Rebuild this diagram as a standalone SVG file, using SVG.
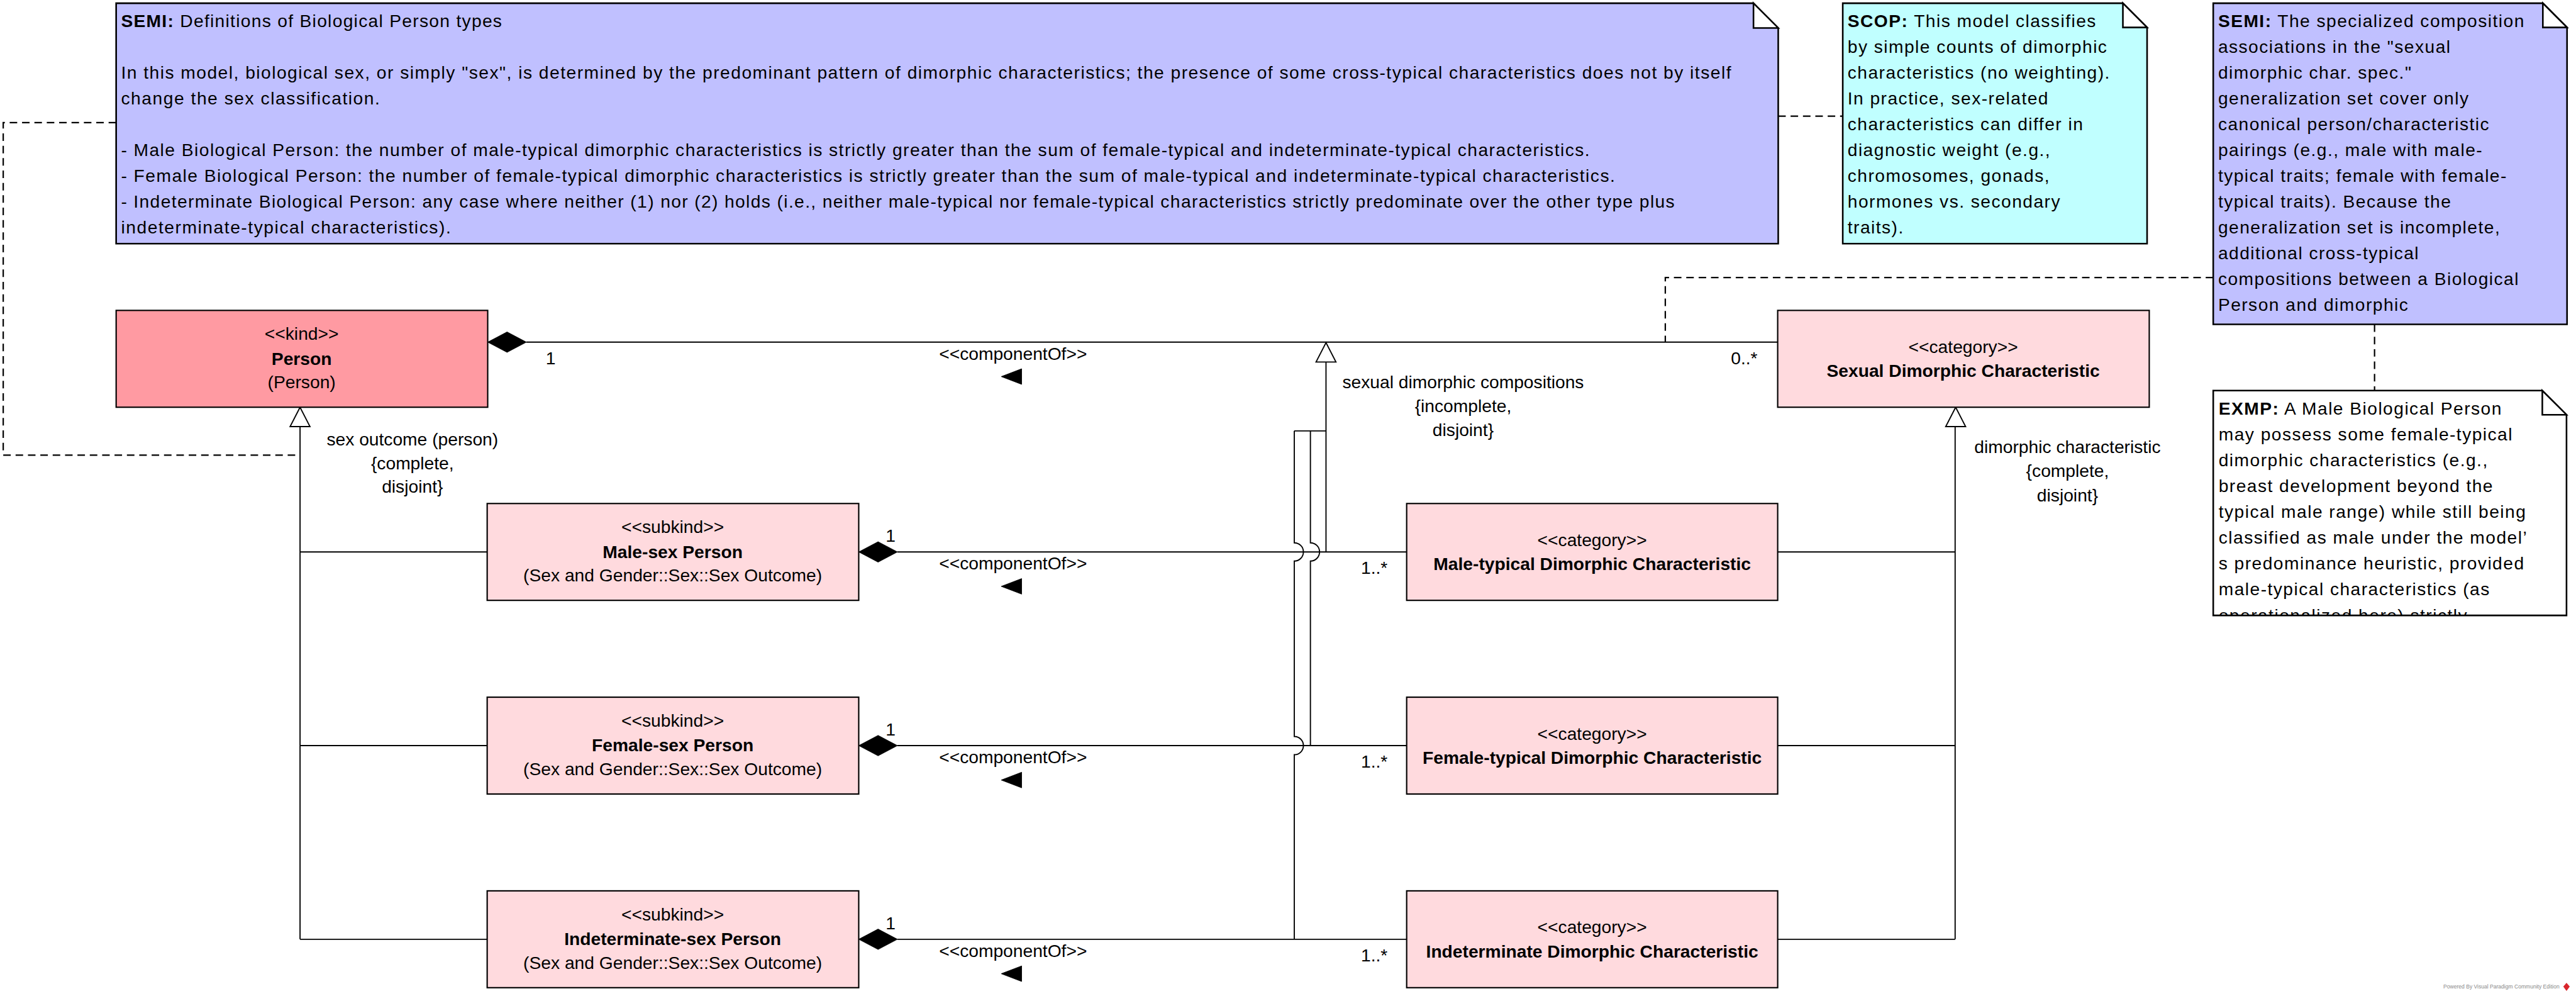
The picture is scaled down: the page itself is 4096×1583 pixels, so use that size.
<svg xmlns="http://www.w3.org/2000/svg" xmlns:xlink="http://www.w3.org/1999/xlink" width="4096" height="1583" viewBox="0 0 4096 1583">
<style>
  text { font-family: "Liberation Sans", Arial, Helvetica, sans-serif; font-size: 33px; fill: #000; }
  .c { text-anchor: middle; }
  .b { font-weight: bold; }
  .nt { letter-spacing: 1.7px; }
  .box { stroke: #000; stroke-width: 2.5; }
  .kind { fill: #FF9AA2; }
  .sub { fill: #FFDADE; }
  .semi { fill: #C0C0FF; stroke: #000; stroke-width: 3; }
  .scop { fill: #C0FFFF; stroke: #000; stroke-width: 3; }
  .exmp { fill: #FFFFFF; stroke: #000; stroke-width: 3; }
  .fold { fill: #FFFFFF; stroke: #000; stroke-width: 3; }
  .ln { fill: none; stroke: #000; stroke-width: 2.2; }
  .dash { fill: none; stroke: #000; stroke-width: 2.6; stroke-dasharray: 14 9; }
  .solid { fill: #000; stroke: #000; stroke-width: 1; }
  .hollow { fill: #FFF; stroke: #000; stroke-width: 2.2; }
  .wm { font-size: 10px; fill: #8a8a8a; }
</style>
<defs>
  <path id="diamond" d="M0,0 L36,-19 L72,0 L36,19 Z"/>
  <path id="gen" d="M0,0 L-18.5,36 L18.5,36 Z"/>
  <path id="dir" d="M0,0 L38,-14.5 L38,14.5 Z"/>
  <clipPath id="clipSemi2"><rect x="4116" y="6" width="660" height="606"/></clipPath>
  <clipPath id="clipExmp"><rect x="4116" y="726" width="660" height="418"/></clipPath>
</defs>
<g transform="scale(0.855)">

  <!-- connectors -->
  <g id="connectors">
    <!-- note anchors -->
    <path class="dash" d="M216,228 H6 V846 H558"/>
    <path class="dash" d="M3307,216 H3427"/>
    <path class="dash" d="M4116,516 H3097 V636"/>
    <path class="dash" d="M4416,603 V726"/>

    <!-- Person composition with Sexual Dimorphic Characteristic -->
    <path class="ln" d="M979,636 H3306"/>
    <use xlink:href="#diamond" href="#diamond" x="907" y="636" class="solid"/>
    <text x="1015" y="677">1</text>
    <text x="3219" y="677">0..*</text>
    <text class="c" x="1884" y="669">&lt;&lt;componentOf&gt;&gt;</text>
    <use xlink:href="#dir" href="#dir" x="1862" y="700" class="solid"/>

    <!-- subkind compositions -->
    <path class="ln" d="M1669,1026 H2616"/>
    <use xlink:href="#diamond" href="#diamond" x="1597" y="1026" class="solid"/>
    <text x="1647" y="1007">1</text>
    <text x="2531" y="1067">1..*</text>
    <text class="c" x="1884" y="1059">&lt;&lt;componentOf&gt;&gt;</text>
    <use xlink:href="#dir" href="#dir" x="1862" y="1090" class="solid"/>

    <path class="ln" d="M1669,1386 H2616"/>
    <use xlink:href="#diamond" href="#diamond" x="1597" y="1386" class="solid"/>
    <text x="1647" y="1367">1</text>
    <text x="2531" y="1427">1..*</text>
    <text class="c" x="1884" y="1419">&lt;&lt;componentOf&gt;&gt;</text>
    <use xlink:href="#dir" href="#dir" x="1862" y="1450" class="solid"/>

    <path class="ln" d="M1669,1746 H2616"/>
    <use xlink:href="#diamond" href="#diamond" x="1597" y="1746" class="solid"/>
    <text x="1647" y="1727">1</text>
    <text x="2531" y="1787">1..*</text>
    <text class="c" x="1884" y="1779">&lt;&lt;componentOf&gt;&gt;</text>
    <use xlink:href="#dir" href="#dir" x="1862" y="1810" class="solid"/>

    <!-- generalization set: sex outcome (person) -->
    <path class="ln" d="M558,793 V1746 M558,1026 H906 M558,1386 H906 M558,1746 H906"/>
    <use xlink:href="#gen" href="#gen" x="558" y="757" class="hollow"/>
    <text class="c" x="767" y="828">sex outcome (person)</text>
    <text class="c" x="767" y="872">{complete,</text>
    <text class="c" x="767" y="916">disjoint}</text>

    <!-- generalization set: dimorphic characteristic -->
    <path class="ln" d="M3636,793 V1746 M3306,1026 H3636 M3306,1386 H3636 M3306,1746 H3636"/>
    <use xlink:href="#gen" href="#gen" x="3637" y="757" class="hollow"/>
    <text class="c" x="3845" y="842">dimorphic characteristic</text>
    <text class="c" x="3845" y="887">{complete,</text>
    <text class="c" x="3845" y="932">disjoint}</text>

    <!-- generalization set: sexual dimorphic compositions -->
    <path class="ln" d="M2466,673 V1026 M2407,801 H2466 M2437,801 V1009 A17,17 0 0 1 2437,1043 V1386 M2407,801 V1009 A17,17 0 0 1 2407,1043 V1369 A17,17 0 0 1 2407,1403 V1746"/>
    <use xlink:href="#gen" href="#gen" x="2466" y="637" class="hollow"/>
    <text class="c" x="2721" y="722">sexual dimorphic compositions</text>
    <text class="c" x="2721" y="766">{incomplete,</text>
    <text class="c" x="2721" y="810">disjoint}</text>
  </g>

  <!-- notes -->
  <g id="note-semi-definitions">
    <path class="semi" d="M216,6 H3261 L3307,52 V453 H216 Z"/>
    <path class="fold" d="M3261,6 V52 H3307 Z"/>
    <text class="nt" x="225" y="50" textLength="710" lengthAdjust="spacing"><tspan class="b">SEMI:</tspan> Definitions of Biological Person types</text>
    <text class="nt" x="225" y="146" textLength="2996" lengthAdjust="spacing">In this model, biological sex, or simply "sex", is determined by the predominant pattern of dimorphic characteristics; the presence of some cross-typical characteristics does not by itself</text>
    <text class="nt" x="225" y="194" textLength="483" lengthAdjust="spacing">change the sex classification.</text>
    <text class="nt" x="225" y="290" textLength="2733" lengthAdjust="spacing">- Male Biological Person: the number of male-typical dimorphic characteristics is strictly greater than the sum of female-typical and indeterminate-typical characteristics.</text>
    <text class="nt" x="225" y="338" textLength="2780" lengthAdjust="spacing">- Female Biological Person: the number of female-typical dimorphic characteristics is strictly greater than the sum of male-typical and indeterminate-typical characteristics.</text>
    <text class="nt" x="225" y="386" textLength="2891" lengthAdjust="spacing">- Indeterminate Biological Person: any case where neither (1) nor (2) holds (i.e., neither male-typical nor female-typical characteristics strictly predominate over the other type plus</text>
    <text class="nt" x="225" y="434" textLength="615" lengthAdjust="spacing">indeterminate-typical characteristics).</text>
  </g>

  <g id="note-scop">
    <path class="scop" d="M3427,6 H3948 L3993,51 V453 H3427 Z"/>
    <path class="fold" d="M3948,6 V51 H3993 Z"/>
    <text class="nt" x="3436" y="50"><tspan class="b">SCOP:</tspan> This model classifies</text>
    <text class="nt" x="3436" y="98">by simple counts of dimorphic</text>
    <text class="nt" x="3436" y="146">characteristics (no weighting).</text>
    <text class="nt" x="3436" y="194">In practice, sex-related</text>
    <text class="nt" x="3436" y="242">characteristics can differ in</text>
    <text class="nt" x="3436" y="290">diagnostic weight (e.g.,</text>
    <text class="nt" x="3436" y="338">chromosomes, gonads,</text>
    <text class="nt" x="3436" y="386">hormones vs. secondary</text>
    <text class="nt" x="3436" y="434">traits).</text>
  </g>

  <g id="note-semi-compositions">
    <path class="semi" d="M4116,6 H4729 L4774,51 V603 H4116 Z"/>
    <path class="fold" d="M4729,6 V51 H4774 Z"/>
    <g clip-path="url(#clipSemi2)">
      <text class="nt" x="4125" y="50"><tspan class="b">SEMI:</tspan> The specialized composition</text>
      <text class="nt" x="4125" y="98">associations in the "sexual</text>
      <text class="nt" x="4125" y="146">dimorphic char. spec."</text>
      <text class="nt" x="4125" y="194">generalization set cover only</text>
      <text class="nt" x="4125" y="242">canonical person/characteristic</text>
      <text class="nt" x="4125" y="290">pairings (e.g., male with male-</text>
      <text class="nt" x="4125" y="338">typical traits; female with female-</text>
      <text class="nt" x="4125" y="386">typical traits). Because the</text>
      <text class="nt" x="4125" y="434">generalization set is incomplete,</text>
      <text class="nt" x="4125" y="482">additional cross-typical</text>
      <text class="nt" x="4125" y="530">compositions between a Biological</text>
      <text class="nt" x="4125" y="578">Person and dimorphic</text>
    </g>
  </g>

  <g id="note-exmp">
    <path class="exmp" d="M4116,726 H4728 L4773,771 V1144 H4116 Z"/>
    <path class="fold" d="M4728,726 V771 H4773 Z"/>
    <g clip-path="url(#clipExmp)">
      <text class="nt" x="4126" y="771"><tspan class="b">EXMP:</tspan> A Male Biological Person</text>
      <text class="nt" x="4126" y="819">may possess some female-typical</text>
      <text class="nt" x="4126" y="867">dimorphic characteristics (e.g.,</text>
      <text class="nt" x="4126" y="915">breast development beyond the</text>
      <text class="nt" x="4126" y="963">typical male range) while still being</text>
      <text class="nt" x="4126" y="1011">classified as male under the model’</text>
      <text class="nt" x="4126" y="1059">s predominance heuristic, provided</text>
      <text class="nt" x="4126" y="1107">male-typical characteristics (as</text>
      <text class="nt" x="4126" y="1155">operationalized here) strictly</text>
    </g>
  </g>

  <!-- nodes -->
  <g id="node-person">
    <rect class="box kind" x="216" y="577" width="691" height="180"/>
    <text class="c" x="561" y="632">&lt;&lt;kind&gt;&gt;</text>
    <text class="c b" x="561" y="678">Person</text>
    <text class="c" x="561" y="722">(Person)</text>
  </g>

  <g id="node-sexual-dimorphic-characteristic">
    <rect class="box sub" x="3306" y="577" width="691" height="180"/>
    <text class="c" x="3651" y="656">&lt;&lt;category&gt;&gt;</text>
    <text class="c b" x="3651" y="701">Sexual Dimorphic Characteristic</text>
  </g>

  <g id="node-male-sex-person">
    <rect class="box sub" x="906" y="936" width="691" height="180"/>
    <text class="c" x="1251" y="991">&lt;&lt;subkind&gt;&gt;</text>
    <text class="c b" x="1251" y="1037">Male-sex Person</text>
    <text class="c" x="1251" y="1081">(Sex and Gender::Sex::Sex Outcome)</text>
  </g>

  <g id="node-female-sex-person">
    <rect class="box sub" x="906" y="1296" width="691" height="180"/>
    <text class="c" x="1251" y="1351">&lt;&lt;subkind&gt;&gt;</text>
    <text class="c b" x="1251" y="1397">Female-sex Person</text>
    <text class="c" x="1251" y="1441">(Sex and Gender::Sex::Sex Outcome)</text>
  </g>

  <g id="node-indeterminate-sex-person">
    <rect class="box sub" x="906" y="1656" width="691" height="180"/>
    <text class="c" x="1251" y="1711">&lt;&lt;subkind&gt;&gt;</text>
    <text class="c b" x="1251" y="1757">Indeterminate-sex Person</text>
    <text class="c" x="1251" y="1801">(Sex and Gender::Sex::Sex Outcome)</text>
  </g>

  <g id="node-male-typical">
    <rect class="box sub" x="2616" y="936" width="690" height="180"/>
    <text class="c" x="2961" y="1015">&lt;&lt;category&gt;&gt;</text>
    <text class="c b" x="2961" y="1060">Male-typical Dimorphic Characteristic</text>
  </g>

  <g id="node-female-typical">
    <rect class="box sub" x="2616" y="1296" width="690" height="180"/>
    <text class="c" x="2961" y="1375">&lt;&lt;category&gt;&gt;</text>
    <text class="c b" x="2961" y="1420">Female-typical Dimorphic Characteristic</text>
  </g>

  <g id="node-indeterminate-typical">
    <rect class="box sub" x="2616" y="1656" width="690" height="180"/>
    <text class="c" x="2961" y="1735">&lt;&lt;category&gt;&gt;</text>
    <text class="c b" x="2961" y="1780">Indeterminate Dimorphic Characteristic</text>
  </g>

  <!-- watermark -->
  <text class="wm" x="4544" y="1837">Powered By Visual Paradigm Community Edition</text>
  <path d="M4773,1827 L4779,1834 L4773,1842 L4767,1834 Z" fill="#D9262C"/>
</g>
</svg>
